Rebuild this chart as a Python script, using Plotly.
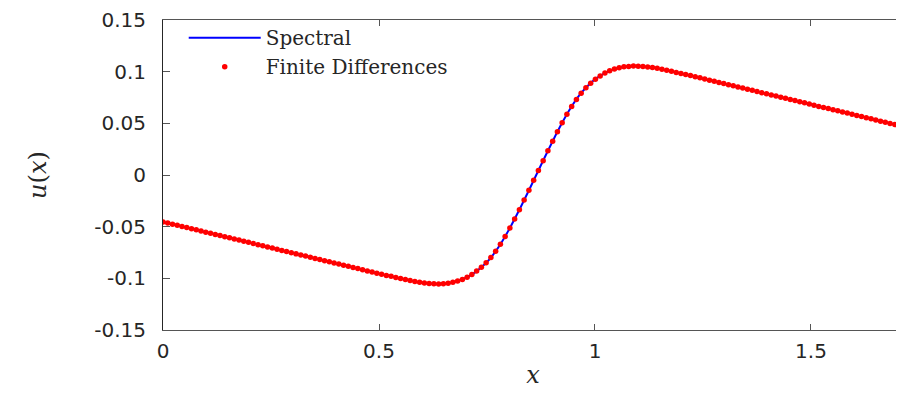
import plotly.graph_objects as go

# ---- data ----
fd_x = [
    0.000, 0.011, 0.022, 0.033, 0.044, 0.055, 0.066, 0.077, 0.088, 0.099,
    0.110, 0.121, 0.132, 0.143, 0.154, 0.165, 0.176, 0.187, 0.198, 0.209,
    0.220, 0.231, 0.242, 0.253, 0.264, 0.275, 0.286, 0.297, 0.308, 0.319,
    0.330, 0.341, 0.352, 0.363, 0.374, 0.385, 0.396, 0.407, 0.418, 0.429,
    0.440, 0.451, 0.462, 0.473, 0.484, 0.495, 0.506, 0.517, 0.528, 0.539,
    0.550, 0.561, 0.572, 0.583, 0.594, 0.605, 0.616, 0.627, 0.638, 0.649,
    0.660, 0.671, 0.682, 0.693, 0.704, 0.715, 0.726, 0.737, 0.748, 0.759,
    0.770, 0.781, 0.792, 0.803, 0.814, 0.825, 0.836, 0.847, 0.858, 0.869,
    0.880, 0.891, 0.902, 0.913, 0.924, 0.935, 0.946, 0.957, 0.968, 0.979,
    0.990, 1.001, 1.012, 1.023, 1.034, 1.045, 1.056, 1.067, 1.078, 1.089,
    1.100, 1.111, 1.122, 1.133, 1.144, 1.155, 1.166, 1.177, 1.188, 1.199,
    1.210, 1.221, 1.232, 1.243, 1.254, 1.265, 1.276, 1.287, 1.298, 1.309,
    1.320, 1.331, 1.342, 1.353, 1.364, 1.375, 1.386, 1.397, 1.408, 1.419,
    1.430, 1.441, 1.452, 1.463, 1.474, 1.485, 1.496, 1.507, 1.518, 1.529,
    1.540, 1.551, 1.562, 1.573, 1.584, 1.595, 1.606, 1.617, 1.628, 1.639,
    1.650, 1.661, 1.672, 1.683, 1.694, 1.705, 1.716,
]
fd_u = [
    -0.0454, -0.0465, -0.0476, -0.0487, -0.0498, -0.0509, -0.0520, -0.0531, -0.0542, -0.0553,
    -0.0564, -0.0575, -0.0586, -0.0597, -0.0608, -0.0619, -0.0630, -0.0641, -0.0652, -0.0663,
    -0.0674, -0.0685, -0.0696, -0.0707, -0.0719, -0.0730, -0.0741, -0.0752, -0.0763, -0.0774,
    -0.0785, -0.0796, -0.0807, -0.0818, -0.0829, -0.0840, -0.0851, -0.0862, -0.0873, -0.0884,
    -0.0895, -0.0906, -0.0917, -0.0928, -0.0939, -0.0950, -0.0961, -0.0972, -0.0981, -0.0992,
    -0.1002, -0.1012, -0.1022, -0.1031, -0.1039, -0.1046, -0.1051, -0.1053, -0.1054, -0.1052,
    -0.1047, -0.1039, -0.1027, -0.1011, -0.0989, -0.0962, -0.0930, -0.0893, -0.0849, -0.0798,
    -0.0737, -0.0669, -0.0594, -0.0513, -0.0426, -0.0336, -0.0243, -0.0148, -0.0052, 0.0044,
    0.0139, 0.0234, 0.0327, 0.0418, 0.0505, 0.0587, 0.0663, 0.0731, 0.0792, 0.0845,
    0.0889, 0.0927, 0.0959, 0.0987, 0.1009, 0.1026, 0.1039, 0.1047, 0.1051, 0.1054,
    0.1053, 0.1051, 0.1046, 0.1040, 0.1032, 0.1023, 0.1013, 0.1003, 0.0992, 0.0982,
    0.0973, 0.0962, 0.0951, 0.0940, 0.0929, 0.0918, 0.0907, 0.0896, 0.0885, 0.0874,
    0.0863, 0.0852, 0.0841, 0.0830, 0.0819, 0.0808, 0.0797, 0.0786, 0.0775, 0.0764,
    0.0753, 0.0742, 0.0731, 0.0720, 0.0709, 0.0698, 0.0686, 0.0675, 0.0664, 0.0653,
    0.0643, 0.0632, 0.0621, 0.0610, 0.0599, 0.0588, 0.0577, 0.0566, 0.0555, 0.0544,
    0.0532, 0.0521, 0.0510, 0.0499, 0.0488, 0.0477, 0.0466,
]

spec_x = [
    0.000, 0.200, 0.400, 0.500, 0.524, 0.544, 0.564, 0.584, 0.604, 0.624,
    0.644, 0.664, 0.684, 0.704, 0.724, 0.744, 0.764, 0.784, 0.804, 0.824,
    0.844, 0.864, 0.884, 0.904, 0.924, 0.944, 0.964, 0.984, 1.004, 1.024,
    1.044, 1.064, 1.084, 1.104, 1.124, 1.144, 1.164, 1.184, 1.204, 1.400,
    1.600, 1.720,
]
spec_u = [
    -0.0454, -0.0654, -0.0855, -0.0955, -0.0977, -0.0996, -0.1015, -0.1032, -0.1045, -0.1053,
    -0.1053, -0.1045, -0.1025, -0.0989, -0.0937, -0.0867, -0.0772, -0.0650, -0.0505, -0.0344,
    -0.0174, 0.0000, 0.0174, 0.0344, 0.0505, 0.0650, 0.0772, 0.0867, 0.0937, 0.0989,
    0.1025, 0.1045, 0.1053, 0.1053, 0.1045, 0.1032, 0.1015, 0.0996, 0.0977, 0.0783,
    0.0583, 0.0462,
]

x_ticks = [0, 0.5, 1, 1.5]
x_tick_labels = ["0", "0.5", "1", "1.5"]
y_ticks = [-0.15, -0.1, -0.05, 0, 0.05, 0.1, 0.15]
y_tick_labels = ["-0.15", "-0.1", "-0.05", "0", "0.05", "0.1", "0.15"]

fig = go.Figure()
fig.add_trace(go.Scatter(
    x=spec_x, y=spec_u, mode="lines", name="Spectral",
    line=dict(color="#0000FF", width=2, shape="spline", smoothing=0.8),
))
fig.add_trace(go.Scatter(
    x=fd_x, y=fd_u, mode="markers", name="Finite Differences",
    marker=dict(color="#FF0000", size=5.5, line=dict(width=0)),
))

tick_font = dict(family="DejaVu Sans", size=20, color="#262626")
fig.update_layout(
    width=896, height=385,
    margin=dict(l=155, r=1, t=12, b=63, autoexpand=False),
    paper_bgcolor="white", plot_bgcolor="white",
    showlegend=True,
    legend=dict(
        x=0.028, y=1.006, xanchor="left", yanchor="top",
        bgcolor="rgba(255,255,255,0)", borderwidth=0,
        font=dict(family="DejaVu Serif", size=20, color="#262626"),
        itemwidth=72, tracegroupgap=0,
    ),
    xaxis=dict(
        range=[0, 1.713], tickmode="array", tickvals=x_ticks, ticktext=x_tick_labels,
        ticks="inside", ticklen=6, tickcolor="#555555", tickwidth=1,
        showline=True, linecolor="#555555", linewidth=1, mirror="ticks",
        showgrid=False, zeroline=False, tickfont=tick_font, automargin=False,
        ticklabelstandoff=3, ticklabeloverflow="allow",
        title=dict(text="<i>x</i>", font=dict(family="DejaVu Serif", size=24, color="#262626"), standoff=4),
    ),
    yaxis=dict(
        range=[-0.15, 0.15], tickmode="array", tickvals=y_ticks, ticktext=y_tick_labels,
        ticks="inside", ticklen=7, tickcolor="#555555", tickwidth=1,
        showline=True, linecolor="#262626", linewidth=1, mirror="ticks",
        showgrid=False, zeroline=False, tickfont=tick_font, automargin=False,
        ticklabelstandoff=12, ticklabeloverflow="allow",
        title=dict(text="<i>u</i>(<i>x</i>)", font=dict(family="DejaVu Serif", size=24, color="#262626"), standoff=40),
    ),
)

fig.write_html("out.html")
